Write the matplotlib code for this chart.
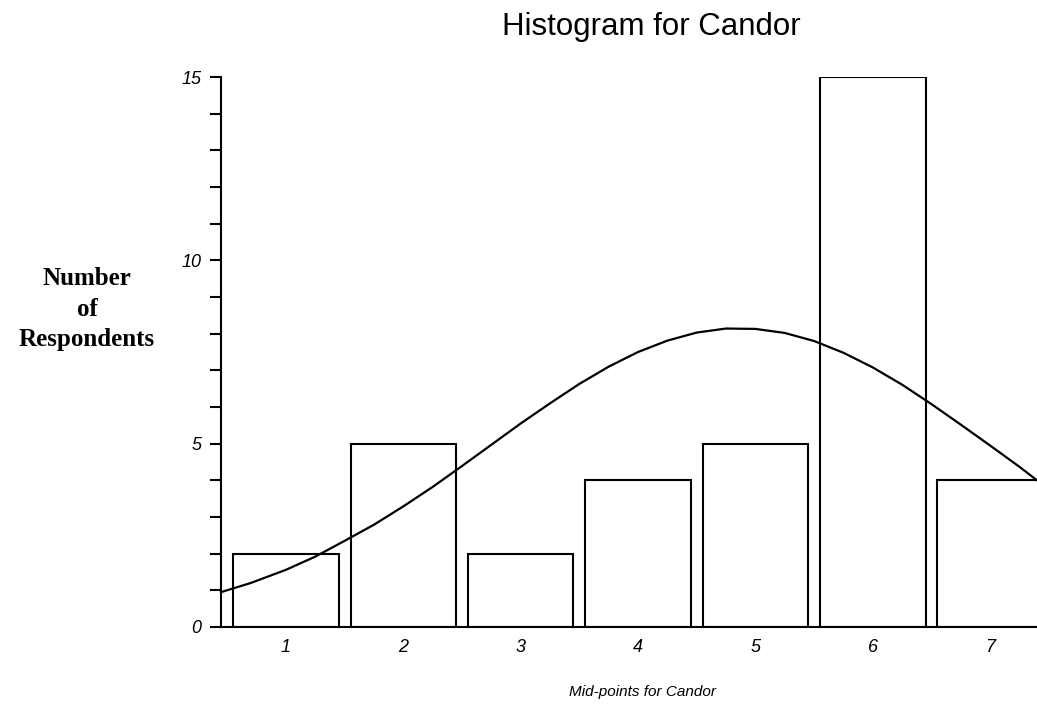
import matplotlib
matplotlib.use('Agg')
import matplotlib.pyplot as plt
from matplotlib.ticker import MultipleLocator

# ==================== data ====================
midpoints = [1, 2, 3, 4, 5, 6, 7]
counts = [2, 5, 2, 4, 5, 15, 4]

# normal curve, values
curve_x = [0.446, 0.7, 1.0, 1.25, 1.5, 1.75, 2.0, 2.25, 2.5, 2.75, 3.0, 3.25,
           3.5, 3.75, 4.0, 4.25, 4.5, 4.75, 5.0, 5.25, 5.5, 5.75, 6.0, 6.25,
           6.5, 6.75, 7.0, 7.25, 7.40]
curve_y = [0.95, 1.2, 1.56, 1.92, 2.35, 2.79, 3.29, 3.82, 4.39, 4.97, 5.55, 6.1,
           6.63, 7.1, 7.5, 7.81, 8.03, 8.14, 8.13, 8.02, 7.8, 7.48, 7.08, 6.61,
           6.08, 5.52, 4.95, 4.37, 4.0]

y_major = [0, 5, 10, 15]

# ==================== plot ====================
plt.rcParams['font.family'] = ['Liberation Sans', 'DejaVu Sans']

fig = plt.figure(figsize=(10.37, 7.04), dpi=100)
ax = fig.add_axes([0.2131, 0.1094, 0.7869, 0.7812])

ax.bar(midpoints, counts, width=0.9, facecolor='white', edgecolor='black',
       linewidth=1.5, zorder=2)
ax.plot(curve_x, curve_y, color='black', linewidth=1.6, zorder=3, clip_on=False)

ax.set_xlim(0.446, 7.40)
ax.set_ylim(0, 15)

for s in ['top', 'right']:
    ax.spines[s].set_visible(False)
ax.spines['left'].set_linewidth(1.5)
ax.spines['bottom'].set_linewidth(1.5)

ax.set_yticks(y_major)
ax.set_yticklabels([str(v) for v in y_major], fontsize=13, style='italic')
ax.yaxis.set_minor_locator(MultipleLocator(1))
ax.tick_params(axis='y', which='both', direction='out', length=8, width=1.5, pad=6)
ax.set_xticks(midpoints)
ax.set_xticklabels([str(m) for m in midpoints], fontsize=13, style='italic')
ax.tick_params(axis='x', length=0, pad=9)

fig.text(0.628, 0.962, 'Histogram for Candor', ha='center', va='center', fontsize=22.5)
fig.text(0.62, 0.017, 'Mid-points for Candor', ha='center', va='center',
         fontsize=11, style='italic')
fig.text(0.084, 0.561, 'Number\nof\nRespondents', ha='center', va='center',
         fontsize=18, fontweight='bold', family=['Liberation Serif', 'DejaVu Serif'],
         linespacing=1.4)

fig.savefig('out.png', dpi=100)
